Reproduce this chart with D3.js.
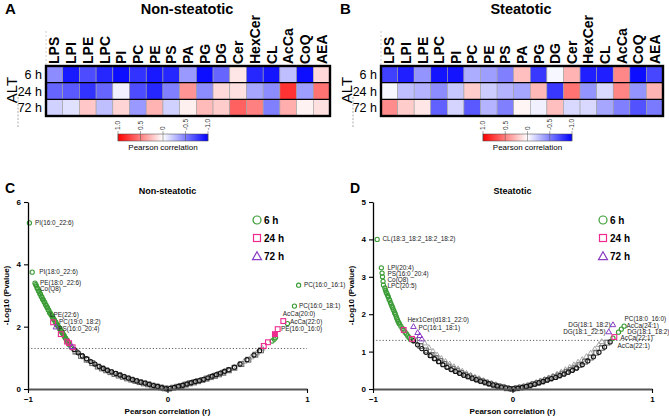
<!DOCTYPE html>
<html>
<head>
<meta charset="utf-8">
<script src="https://cdn.jsdelivr.net/npm/d3@7"></script>
<style>
body { margin: 0; background: #fff; }
svg text { font-family: Arial, "Liberation Sans", Helvetica, sans-serif; }
</style>
</head>
<body>
<svg class="chart"></svg>
<script>
var lipidClasses = ["LPS", "LPI", "LPE", "LPC", "PI", "PC", "PE", "PS", "PA", "PG", "DG", "Cer", "HexCer", "CL", "AcCa", "CoQ", "AEA"];
var timePoints = ["6 h", "24 h", "72 h"];
var colorTicks = [1, 0.5, 0, -0.5, -1];
var colorTickLabels = ["1.0", "0.5", "0", "-0.5", "-1.0"];

var nonSteatotic6h = [-0.45, -0.9, -0.7, -0.85, -0.95, -0.8, -0.9, -0.85, -0.4, -0.95, -0.6, 0.1, -0.85, -0.92, -0.25, -0.95, 0.15];
var nonSteatotic24h = [-0.6, -0.65, -0.8, -0.6, -0.06, -0.7, -0.85, -0.5, 0.42, -0.45, 0.15, 0.12, -0.35, -0.45, 0.8, -0.38, 0.55];
var nonSteatotic72h = [-0.18, -0.12, 0.22, -0.25, 0.17, -0.4, 0.3, -0.18, 0.06, 0.27, 0.2, 0.62, 0.5, -0.5, 0.32, 0.05, 0.12];
var steatotic6h = [-0.75, -0.88, -0.42, -0.92, -0.92, -0.32, -0.38, -0.5, 0.25, -0.78, -0.03, 0.3, -0.88, -0.88, 0.47, -0.95, -0.72];
var steatotic24h = [-0.03, -0.25, -0.3, -0.45, -0.22, 0.2, -0.2, -0.3, -0.35, 0.28, -0.78, 0.55, -0.42, -0.15, 0.48, -0.42, 0.3];
var steatotic72h = [0.45, 0.2, 0.1, -0.62, -0.17, -0.65, -0.3, -0.5, 0.04, -0.06, 0.25, -0.15, -0.15, -0.35, -0.5, -0.68, -0.52];

// volcano points: [pearson r, -log10 p]
var pThreshold = 1.3;
var nsSig6h = [[-0.99,5.33],[-0.97,3.75],[-0.95,3.40],[-0.945,3.35],[-0.94,3.31],[-0.935,3.24],[-0.93,3.22],[-0.925,3.15],[-0.92,3.13],[-0.915,3.06],[-0.91,3.04],[-0.905,2.97],[-0.90,2.95],[-0.895,2.88],[-0.89,2.86],[-0.885,2.80],[-0.88,2.78],[-0.875,2.71],[-0.87,2.69],[-0.865,2.63],[-0.86,2.61],[-0.855,2.54],[-0.85,2.52],[-0.845,2.45],[-0.84,2.43],[-0.835,2.38],[-0.83,2.36],[-0.825,2.30],[-0.82,2.28],[-0.815,2.23],[-0.81,2.21],[-0.805,2.16],[-0.80,2.14],[-0.795,2.08],[-0.79,2.06],[-0.785,2.01],[-0.78,1.99],[-0.775,1.94],[-0.77,1.92],[-0.765,1.87],[-0.76,1.85],[-0.755,1.80],[-0.75,1.78],[-0.745,1.73],[-0.74,1.71],[-0.735,1.65],[-0.73,1.63],[-0.725,1.58],[-0.72,1.56],[-0.715,1.50],[-0.71,1.48],[-0.705,1.43],[-0.70,1.41],[-0.69,1.34],[0.94,3.33],[0.91,2.66],[0.86,2.10],[0.775,1.65],[0.765,1.60],[0.75,1.54]];
var nsSig24h = [[-0.82,2.14],[-0.765,1.76],[-0.72,1.52],[-0.705,1.47],[-0.68,1.34],[0.83,2.18],[0.79,1.92],[0.72,1.50],[0.69,1.38]];
var nsSig24hFilled = [[0.77,1.76]];
var nsSig72h = [[-0.80,1.98],[-0.685,1.35]];
var nsRest6h = [[-0.67,1.27],[-0.64,1.16],[-0.61,1.06],[-0.58,0.97],[-0.55,0.88],[-0.52,0.80],[-0.49,0.72],[-0.46,0.66],[-0.43,0.60],[-0.40,0.55],[-0.37,0.50],[-0.34,0.45],[-0.31,0.40],[-0.28,0.35],[-0.25,0.30],[-0.22,0.26],[-0.19,0.22],[-0.16,0.19],[-0.13,0.15],[-0.10,0.11],[-0.07,0.08],[-0.04,0.04],[-0.01,0.01],[0.02,0.02],[0.05,0.05],[0.08,0.09],[0.11,0.12],[0.14,0.16],[0.17,0.20],[0.20,0.24],[0.23,0.27],[0.26,0.31],[0.29,0.36],[0.32,0.41],[0.35,0.46],[0.38,0.51],[0.41,0.57],[0.44,0.62],[0.48,0.70],[0.52,0.80],[0.57,0.94],[0.62,1.09],[0.66,1.23]];
var nsRest24h = [[-0.66,1.20],[-0.62,1.06],[-0.58,0.94],[-0.54,0.83],[-0.50,0.72],[-0.47,0.66],[-0.44,0.60],[-0.41,0.54],[-0.38,0.48],[-0.35,0.43],[-0.32,0.39],[-0.29,0.34],[-0.26,0.30],[-0.23,0.26],[-0.20,0.22],[-0.17,0.18],[-0.14,0.15],[-0.11,0.11],[-0.08,0.08],[-0.05,0.05],[-0.02,0.02],[0.01,0.01],[0.04,0.04],[0.07,0.07],[0.10,0.10],[0.13,0.14],[0.16,0.18],[0.19,0.21],[0.22,0.25],[0.25,0.29],[0.28,0.33],[0.31,0.38],[0.34,0.42],[0.37,0.47],[0.40,0.52],[0.44,0.60],[0.48,0.68],[0.53,0.80],[0.58,0.94],[0.63,1.10],[0.67,1.24]];
var nsRest72h = [[-0.65,1.18],[-0.60,1.02],[-0.56,0.90],[-0.52,0.79],[-0.48,0.69],[-0.45,0.63],[-0.42,0.57],[-0.39,0.51],[-0.36,0.46],[-0.33,0.42],[-0.30,0.37],[-0.27,0.33],[-0.24,0.28],[-0.21,0.24],[-0.18,0.21],[-0.15,0.17],[-0.12,0.13],[-0.09,0.09],[-0.06,0.06],[-0.03,0.03],[0.00,0.00],[0.03,0.03],[0.06,0.06],[0.09,0.09],[0.12,0.13],[0.15,0.17],[0.18,0.21],[0.21,0.24],[0.24,0.28],[0.27,0.33],[0.30,0.37],[0.33,0.42],[0.36,0.46],[0.39,0.51],[0.43,0.59],[0.47,0.67],[0.51,0.77],[0.55,0.88],[0.60,1.02],[0.64,1.15],[0.68,1.30]];

var stSig6h = [[-0.97,4.00],[-0.94,3.24],[-0.935,3.10],[-0.932,3.00],[-0.928,2.88],[-0.925,2.78],[-0.915,2.70],[-0.91,2.64],[-0.905,2.58],[-0.90,2.55],[-0.895,2.50],[-0.89,2.46],[-0.885,2.40],[-0.88,2.37],[-0.875,2.31],[-0.87,2.27],[-0.865,2.22],[-0.86,2.18],[-0.855,2.13],[-0.85,2.09],[-0.845,2.04],[-0.84,2.00],[-0.835,1.95],[-0.83,1.90],[-0.825,1.85],[-0.82,1.81],[-0.815,1.77],[-0.81,1.74],[-0.80,1.68],[-0.79,1.62],[-0.78,1.57],[-0.77,1.52],[-0.76,1.47],[-0.75,1.42],[-0.74,1.37],[-0.73,1.32],[0.80,1.68],[0.78,1.60],[0.76,1.52],[0.72,1.36]];
var stSig24h = [[-0.78,1.58],[-0.72,1.34],[0.73,1.39]];
var stSig72h = [[-0.71,1.66],[-0.68,1.50],[-0.665,1.42],[-0.65,1.33],[0.72,1.71],[0.69,1.52]];
var stRest6h = [[-0.71,1.29],[-0.68,1.18],[-0.65,1.08],[-0.62,0.98],[-0.59,0.89],[-0.56,0.81],[-0.53,0.73],[-0.50,0.65],[-0.47,0.58],[-0.44,0.52],[-0.41,0.47],[-0.38,0.42],[-0.35,0.37],[-0.32,0.33],[-0.29,0.29],[-0.26,0.25],[-0.23,0.21],[-0.20,0.18],[-0.17,0.14],[-0.14,0.11],[-0.11,0.08],[-0.08,0.05],[-0.05,0.03],[-0.02,0.01],[0.01,0.01],[0.04,0.02],[0.07,0.04],[0.10,0.07],[0.13,0.10],[0.16,0.13],[0.19,0.17],[0.22,0.20],[0.25,0.24],[0.28,0.28],[0.31,0.31],[0.34,0.36],[0.37,0.40],[0.40,0.45],[0.43,0.50],[0.46,0.56],[0.50,0.65],[0.54,0.75],[0.58,0.86],[0.62,0.98],[0.66,1.12],[0.70,1.26]];
var stRest24h = [[-0.70,1.30],[-0.66,1.15],[-0.62,1.03],[-0.58,0.91],[-0.55,0.83],[-0.52,0.75],[-0.49,0.67],[-0.46,0.60],[-0.43,0.54],[-0.40,0.49],[-0.37,0.43],[-0.34,0.38],[-0.31,0.34],[-0.28,0.29],[-0.25,0.25],[-0.22,0.21],[-0.19,0.17],[-0.16,0.14],[-0.13,0.10],[-0.10,0.07],[-0.07,0.05],[-0.04,0.02],[0.00,0.00],[0.03,0.02],[0.06,0.04],[0.09,0.06],[0.12,0.09],[0.15,0.13],[0.18,0.16],[0.21,0.20],[0.24,0.24],[0.27,0.28],[0.30,0.32],[0.33,0.36],[0.36,0.41],[0.39,0.46],[0.42,0.51],[0.45,0.57],[0.48,0.64],[0.52,0.73],[0.56,0.84],[0.60,0.97],[0.64,1.10],[0.68,1.24]];
var stRest72h = [[-0.63,1.22],[-0.60,1.10],[-0.57,1.00],[-0.54,0.90],[-0.51,0.81],[-0.48,0.73],[-0.45,0.66],[-0.42,0.59],[-0.39,0.53],[-0.36,0.47],[-0.33,0.41],[-0.30,0.36],[-0.27,0.31],[-0.24,0.27],[-0.21,0.22],[-0.18,0.18],[-0.15,0.14],[-0.12,0.11],[-0.09,0.07],[-0.06,0.05],[-0.03,0.02],[0.02,0.02],[0.05,0.04],[0.08,0.07],[0.11,0.09],[0.14,0.13],[0.17,0.17],[0.20,0.21],[0.23,0.25],[0.26,0.29],[0.29,0.34],[0.32,0.39],[0.35,0.45],[0.38,0.51],[0.41,0.57],[0.44,0.64],[0.47,0.71],[0.50,0.78],[0.53,0.86],[0.56,0.95],[0.59,1.06],[0.62,1.18],[0.64,1.26]];

// annotations: [text, r, -log10 p, anchor]
var nsLabels = [
    ["PI(16:0_22:6)", -0.95, 5.33, "start"], ["PI(18:0_22:6)", -0.92, 3.75, "start"],
    ["PE(18:0_22:6)", -0.914, 3.40, "start"], ["Co(Q8)", -0.914, 3.21, "start"],
    ["LPE(22:6)", -0.842, 2.37, "start"], ["PC(19:0_18:2)", -0.777, 2.15, "start"],
    ["PS(16:0_20:4)", -0.784, 1.92, "start"], ["PC(16:0_16:1)", 0.978, 3.34, "start"],
    ["PC(16:0_18:1)", 0.942, 2.66, "start"], ["AcCa(20:0)", 0.827, 2.41, "start"],
    ["AcCa(22:0)", 0.878, 2.15, "start"], ["PE(16:0_16:0)", 0.813, 1.92, "start"]
];
var stLabels = [
    ["CL(18:3_18:2_18:2_18:2)", -0.932, 4.01, "start"], ["LPI(20:4)", -0.896, 3.24, "start"],
    ["PS(16:0_20:4)", -0.896, 3.07, "start"], ["Co(Q8)", -0.896, 2.91, "start"],
    ["LPC(20:5)", -0.896, 2.75, "start"], ["Hex1Cer(d18:1_22:0)", -0.753, 1.84, "start"],
    ["PC(16:1_18:1)", -0.674, 1.63, "start"], ["PC(18:0_16:0)", 0.803, 1.87, "start"],
    ["AcCa(24:1)", 0.817, 1.68, "start"], ["DG(18:1_18:2)", 0.703, 1.71, "end"],
    ["DG(18:1_22:5)", 0.667, 1.52, "end"], ["DG(18:1_18:2)", 0.822, 1.52, "start"],
    ["AcCa(22:1)", 0.774, 1.36, "start"], ["AcCa(22:1)", 0.753, 1.15, "start"]
];
var nsTicksY = [0, 2, 4, 6];
var stTicksY = [0, 1, 2, 3, 4, 5];
var ticksX = [-1, 0, 1];

var green = "#3a9c35", pink = "#ee2a8f", purple = "#8a3cc4";

var chart = d3.select(".chart").attr("width", 669).attr("height", 419);
var colorScale = d3.scaleLinear().domain([-1, 0, 1]).range(["#0000ff", "#ffffff", "#ff0000"]);

initHeatmap("A", "Non-steatotic", [nonSteatotic6h, nonSteatotic24h, nonSteatotic72h], 46, 330, 187, 118, 208, "gA");
initHeatmap("B", "Steatotic", [steatotic6h, steatotic24h, steatotic72h], 381, 663, 521, 483, 572, "gB");

initVolcano({
    letter: "C", title: "Non-steatotic", left: 28, right: 307, yMax: 6, yTicks: nsTicksY,
    sig: [nsSig6h, nsSig24h, nsSig72h], rest: [nsRest6h, nsRest24h, nsRest72h],
    filled: nsSig24hFilled, labels: nsLabels, legendX: 257
});
initVolcano({
    letter: "D", title: "Steatotic", left: 373, right: 652, yMax: 5, yTicks: stTicksY,
    sig: [stSig6h, stSig24h, stSig72h], rest: [stRest6h, stRest24h, stRest72h],
    filled: [], labels: stLabels, legendX: 603
});

function initHeatmap(letter, title, rows, x0, x1, titleX, barX0, barX1, gradId) {
    var top = 66, bottom = 116;
    var g = chart.append("g");
    var xBand = d3.scaleBand().domain(lipidClasses).range([x0, x1]);
    var yBand = d3.scaleBand().domain(timePoints).range([top, bottom]);

    g.append("text").attr("x", x0 - 41).attr("y", 14)
            .style("font-size", "15px").style("font-weight", "bold").text(letter);
    g.append("text").attr("x", titleX).attr("y", 14).attr("text-anchor", "middle")
            .style("font-size", "14.5px").style("font-weight", "bold").text(title);

    g.append("line").attr("x1", x0).attr("x2", x0).attr("y1", 31).attr("y2", top)
            .attr("stroke", "#aaa").attr("stroke-width", 0.6).attr("stroke-dasharray", "2,2");
    g.append("line").attr("x1", x0 - 28).attr("x2", x0 - 28).attr("y1", 97).attr("y2", 127)
            .attr("stroke", "#777").attr("stroke-width", 0.6).attr("stroke-dasharray", "2,1.5");

    rows.forEach(function (values, ri) {
        g.selectAll(".cell" + ri)
                .data(values)
                .enter().append("rect")
                .attr("x", function (v, i) { return xBand(lipidClasses[i]); })
                .attr("y", yBand(timePoints[ri]))
                .attr("width", xBand.bandwidth())
                .attr("height", yBand.bandwidth())
                .attr("fill", function (v) { return colorScale(v); })
                .attr("stroke", "#a0a0a0")
                .attr("stroke-width", 0.6);
    });
    timePoints.slice(1).forEach(function (t) {
        g.append("line").attr("x1", x0).attr("x2", x1)
                .attr("y1", yBand(t)).attr("y2", yBand(t))
                .attr("stroke", "#000").attr("stroke-width", 1.3);
    });
    g.append("rect").attr("x", x0).attr("y", top).attr("width", x1 - x0).attr("height", bottom - top)
            .attr("fill", "none").attr("stroke", "#000").attr("stroke-width", 2.4);

    g.selectAll(".colLabel")
            .data(lipidClasses)
            .enter().append("text")
            .attr("transform", function (c) {
                return "translate(" + (xBand(c) + xBand.bandwidth() / 2) + "," + (top - 2) + ") rotate(-90)";
            })
            .attr("dy", "0.36em")
            .style("font-size", "14px").style("font-weight", "bold")
            .text(function (c) { return c; });

    g.selectAll(".rowLabel")
            .data(timePoints)
            .enter().append("text")
            .attr("x", x0 - 4)
            .attr("y", function (t) { return yBand(t) + yBand.bandwidth() / 2; })
            .attr("dy", "0.36em")
            .attr("text-anchor", "end")
            .style("font-size", "12.5px")
            .text(function (t) { return t; });
    g.append("text")
            .attr("transform", "translate(" + (x0 - 34) + "," + 90 + ") rotate(-90)")
            .attr("dy", "0.36em").attr("text-anchor", "middle")
            .style("font-size", "15px").text("ALT");

    // colour bar
    var grad = chart.append("defs").append("linearGradient").attr("id", gradId);
    grad.append("stop").attr("offset", "0%").attr("stop-color", colorScale(1));
    grad.append("stop").attr("offset", "50%").attr("stop-color", colorScale(0));
    grad.append("stop").attr("offset", "100%").attr("stop-color", colorScale(-1));
    var barScale = d3.scaleLinear().domain([1, -1]).range([barX0, barX1]);
    g.append("rect").attr("x", barX0).attr("y", 134).attr("width", barX1 - barX0).attr("height", 7)
            .attr("fill", "url(#" + gradId + ")").attr("stroke", "#444").attr("stroke-width", 0.5);
    g.selectAll(".barTick")
            .data(colorTicks)
            .enter().append("line")
            .attr("x1", function (d) { return barScale(d); })
            .attr("x2", function (d) { return barScale(d); })
            .attr("y1", 131).attr("y2", 141)
            .attr("stroke", "#555").attr("stroke-width", 0.5);
    g.selectAll(".barLabel")
            .data(colorTicks)
            .enter().append("text")
            .attr("transform", function (d) { return "translate(" + barScale(d) + ",130) rotate(-90)"; })
            .attr("dy", "0.35em")
            .style("font-size", "6.5px").attr("fill", "#333")
            .text(function (d, i) { return colorTickLabels[i]; });
    g.append("text").attr("x", (barX0 + barX1) / 2).attr("y", 150).attr("text-anchor", "middle")
            .style("font-size", "8px").text("Pearson correlation");
}

function trianglePath(cx, cy, s) {
    var h = s * 0.87;
    return "M" + cx + "," + (cy - h * 2 / 3) + "L" + (cx + s / 2) + "," + (cy + h / 3) +
            "L" + (cx - s / 2) + "," + (cy + h / 3) + "Z";
}

function drawMarks(g, data, shape, color, xRange, yRange, size, fill) {
    var sel = g.selectAll(null).data(data).enter();
    if (shape === "circle") {
        sel.append("circle")
                .attr("cx", function (d) { return xRange(d[0]); })
                .attr("cy", function (d) { return yRange(d[1]); })
                .attr("r", size / 2)
                .attr("fill", fill).attr("stroke", color).attr("stroke-width", 1.1);
    } else if (shape === "square") {
        sel.append("rect")
                .attr("x", function (d) { return xRange(d[0]) - size / 2; })
                .attr("y", function (d) { return yRange(d[1]) - size / 2; })
                .attr("width", size).attr("height", size)
                .attr("fill", fill).attr("stroke", color).attr("stroke-width", 1.1);
    } else {
        sel.append("path")
                .attr("d", function (d) { return trianglePath(xRange(d[0]), yRange(d[1]), size); })
                .attr("fill", fill).attr("stroke", color).attr("stroke-width", 1);
    }
}

function initVolcano(o) {
    var bottom = 389, top = 202;
    var g = chart.append("g");
    var xRange = d3.scaleLinear().domain([-1, 1]).range([o.left, o.right]);
    var yRange = d3.scaleLinear().domain([0, o.yMax]).range([bottom, top]);
    var mid = (o.left + o.right) / 2;

    g.append("text").attr("x", o.left - 23).attr("y", 193)
            .style("font-size", "14px").style("font-weight", "bold").text(o.letter);
    g.append("text").attr("x", mid).attr("y", 194).attr("text-anchor", "middle")
            .style("font-size", "9px").style("font-weight", "bold").text(o.title);

    g.append("line").attr("x1", o.left).attr("x2", o.right)
            .attr("y1", yRange(pThreshold)).attr("y2", yRange(pThreshold))
            .attr("stroke", "#333").attr("stroke-width", 0.8).attr("stroke-dasharray", "1.2,2");

    var shapes = ["circle", "square", "triangle"];
    var restColors = ["#111", "#707070", "#a8a8a8"];
    var sigColors = [green, pink, purple];
    var sizes = [4.2, 4.8, 5.6];
    [2, 1, 0].forEach(function (k) {
        drawMarks(g, o.rest[k], shapes[k], restColors[k], xRange, yRange, sizes[k], "none");
    });
    [0, 1, 2].forEach(function (k) {
        drawMarks(g, o.sig[k], shapes[k], sigColors[k], xRange, yRange, sizes[k], "none");
    });
    drawMarks(g, o.filled, "square", pink, xRange, yRange, 4.8, pink);

    var yAxis = g.append("g").attr("transform", "translate(" + o.left + ",0)")
            .call(d3.axisLeft(yRange).tickValues(o.yTicks).tickSize(4).tickSizeOuter(0).tickFormat(d3.format("d")));
    var xAxis = g.append("g").attr("transform", "translate(0," + bottom + ")")
            .call(d3.axisBottom(xRange).tickValues(ticksX).tickSize(4).tickSizeOuter(0).tickFormat(d3.format("d")));
    [yAxis, xAxis].forEach(function (ax) {
        ax.select(".domain").attr("stroke", "#000").attr("stroke-width", 1.3);
        ax.selectAll(".tick line").attr("stroke", "#000").attr("stroke-width", 1.1);
        ax.selectAll(".tick text").attr("fill", "#000")
                .style("font-size", "8px").style("font-weight", "bold")
                .style("font-family", "Arial, 'Liberation Sans', sans-serif");
    });
    xAxis.select(".domain").attr("stroke", "#555").attr("stroke-width", 1.8);

    g.append("text").attr("x", mid).attr("y", 414).attr("text-anchor", "middle")
            .style("font-size", "8px").style("font-weight", "bold").text("Pearson correlation (r)");
    g.append("text")
            .attr("transform", "translate(" + (o.left - 19) + "," + ((top + bottom) / 2) + ") rotate(-90)")
            .attr("text-anchor", "middle")
            .style("font-size", "8px").style("font-weight", "bold").text("-Log10 (Pvalue)");

    g.selectAll(".ann")
            .data(o.labels)
            .enter().append("text")
            .attr("x", function (d) { return xRange(d[1]); })
            .attr("y", function (d) { return yRange(d[2]); })
            .attr("dy", "0.35em")
            .attr("text-anchor", function (d) { return d[3]; })
            .style("font-size", "6.4px").attr("fill", "#222")
            .text(function (d) { return d[0]; });

    // legend
    var legendY = [220, 238, 256];
    var lx = o.legendX;
    g.append("circle").attr("cx", lx).attr("cy", legendY[0]).attr("r", 4)
            .attr("fill", "none").attr("stroke", green).attr("stroke-width", 1.2);
    g.append("rect").attr("x", lx - 3.5).attr("y", legendY[1] - 3.5).attr("width", 7).attr("height", 7)
            .attr("fill", "none").attr("stroke", pink).attr("stroke-width", 1.2);
    g.append("path").attr("d", trianglePath(lx, legendY[2] + 1, 9))
            .attr("fill", "none").attr("stroke", purple).attr("stroke-width", 1.2);
    g.selectAll(".legText")
            .data(timePoints)
            .enter().append("text")
            .attr("x", lx + 7)
            .attr("y", function (d, i) { return legendY[i]; })
            .attr("dy", "0.36em")
            .style("font-size", "10px").style("font-weight", "bold")
            .text(function (d) { return d; });
}
</script>
</body>
</html>
